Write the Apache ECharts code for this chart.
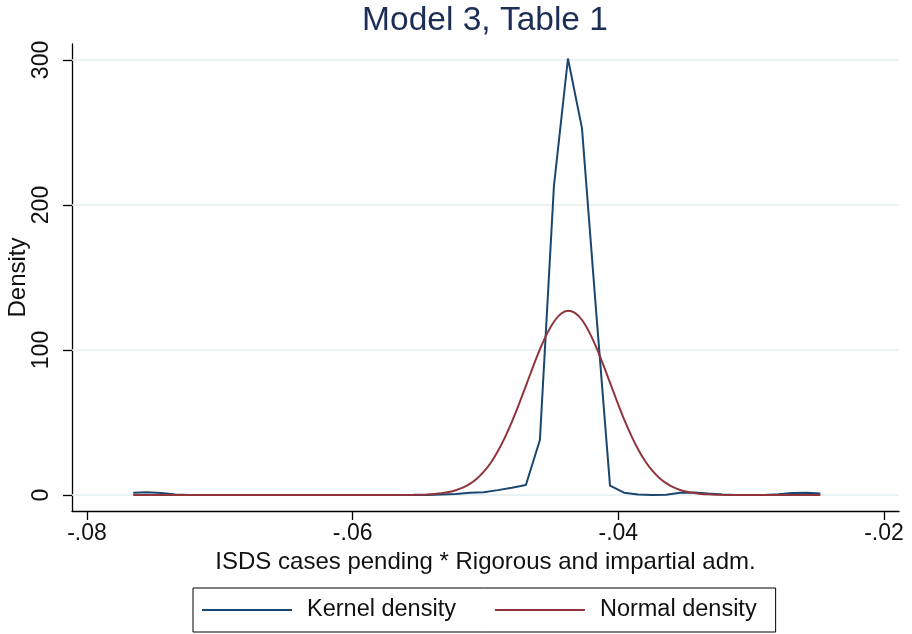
<!DOCTYPE html>
<html>
<head>
<meta charset="utf-8">
<script src="https://cdn.jsdelivr.net/npm/echarts@6/dist/echarts.min.js"></script>
<style>
html,body{margin:0;padding:0;background:#fff;}
#chart{width:912px;height:634px;}
</style>
</head>
<body>
<div id="chart"></div>
<script>
// Kernel density evaluation grid (x values)
var kernelX = [-0.076520,-0.075464,-0.074409,-0.073353,-0.072297,-0.071242,-0.070186,-0.069130,-0.068074,-0.067019,
  -0.065963,-0.064907,-0.063852,-0.062796,-0.061740,-0.060685,-0.059629,-0.058573,-0.057517,-0.056462,
  -0.055406,-0.054350,-0.053295,-0.052239,-0.051183,-0.050128,-0.049072,-0.048016,-0.046960,-0.045905,
  -0.044849,-0.043793,-0.042738,-0.041682,-0.040626,-0.039571,-0.038515,-0.037459,-0.036403,-0.035348,
  -0.034292,-0.033236,-0.032181,-0.031125,-0.030069,-0.029014,-0.027958,-0.026902,-0.025846,-0.024791];
// Kernel density values
var kernelDensity = [1.6,2.0,1.4,0.4,0.1,0,0,0,0,0,
  0,0,0,0,0,0,0,0,0,0,
  0,0.1,0.4,0.8,1.5,1.9,3.4,5.1,6.9,38,
  213,301,253,128,6.5,1.6,0.4,0.1,0.2,1.6,
  1.7,1.0,0.4,0.1,0,0.1,0.6,1.4,1.6,1.0];
// Normal density x values (denser near the bell)
var normalX = [-0.076520,-0.075464,-0.074409,-0.073353,-0.072297,-0.071242,-0.070186,-0.069130,-0.068074,-0.067019,
  -0.065963,-0.064907,-0.063852,-0.062796,-0.061740,-0.060685,-0.059629,-0.058573,-0.058045,-0.057517,
  -0.056989,-0.056462,-0.055934,-0.055406,-0.054878,-0.054350,-0.053822,-0.053295,-0.052767,-0.052239,
  -0.051711,-0.051183,-0.050655,-0.050128,-0.049600,-0.049072,-0.048544,-0.048016,-0.047488,-0.046960,
  -0.046432,-0.045905,-0.045377,-0.044849,-0.044321,-0.043793,-0.043265,-0.042738,-0.042210,-0.041682,
  -0.041154,-0.040626,-0.040098,-0.039571,-0.039043,-0.038515,-0.037987,-0.037459,-0.036931,-0.036403,
  -0.035875,-0.035348,-0.034820,-0.034292,-0.033764,-0.033236,-0.032708,-0.032181,-0.031653,-0.031125,
  -0.030597,-0.030069,-0.029541,-0.029014,-0.027958,-0.026902,-0.025846,-0.024791];
// Normal density values
var normalDensity = [0,0,0,0,0,0,0,0,0,0,
  0,0,0,0,0,0,0,0.002,0.004,0.01,
  0.017,0.03,0.068,0.13,0.236,0.42,0.74,1.24,2.04,3.27,
  5.09,7.7,11.27,16.1,22.3,30.2,39.6,50.4,62.5,75.3,
  88.2,100.4,111.1,119.5,125.0,127.1,125.6,120.7,112.7,102.3,
  90.3,77.5,64.6,52.3,41.3,31.6,23.5,17.0,12.0,8.2,
  5.46,3.5,2.21,1.35,0.8,0.47,0.26,0.14,0.075,0.04,
  0.02,0.01,0.005,0,0,0,0,0];
var xTicks = [-0.08,-0.06,-0.04,-0.02];
var xTickLabels = ['-.08','-.06','-.04','-.02'];
var yTicks = [0,100,200,300];
var yTickLabels = ['0','100','200','300'];
var seriesNames = ['Kernel density','Normal density'];
var titleText = 'Model 3, Table 1';
var xTitle = 'ISDS cases pending * Rigorous and impartial adm.';
var yTitle = 'Density';

var FONT = '"Liberation Sans", Arial, Helvetica, sans-serif';
function pair(xs, ys){ return xs.map(function(x,i){ return [x, ys[i]]; }); }
function lookup(vals, labels, v){
  for (var i=0;i<vals.length;i++){ if (Math.abs(vals[i]-v) < 1e-9) return labels[i]; }
  return '';
}

var chart = echarts.init(document.getElementById('chart'), null, {renderer:'canvas'});
chart.setOption({
  animation: false,
  backgroundColor: '#ffffff',
  title: {
    text: titleText,
    left: 485, textAlign: 'center', top: 4, padding: 0,
    textStyle: {fontFamily: FONT, fontSize: 33.5, fontWeight: 'normal', color: '#1c2e55'}
  },
  grid: {left: 72, right: 13, top: 44, bottom: 123, containLabel: false, outerBoundsMode: 'none'},
  xAxis: {
    type: 'value', min: -0.08113, max: -0.01887,
    name: xTitle, nameLocation: 'middle', nameGap: 39, nameMoveOverlap: false,
    nameTextStyle: {fontFamily: FONT, fontSize: 24, color: '#111'},
    axisLine: {show: true, onZero: false, lineStyle: {color: '#000', width: 1.3}},
    axisTick: {show: true, length: 9, customValues: xTicks, lineStyle: {color: '#000', width: 1.3}},
    axisLabel: {show: true, customValues: xTicks, margin: 11, fontFamily: FONT, fontSize: 23, color: '#111',
      formatter: function(v){ return lookup(xTicks, xTickLabels, v); }},
    splitLine: {show: false}
  },
  yAxis: {
    type: 'value', min: -11, max: 311,
    name: yTitle, nameLocation: 'middle', nameGap: 42, nameMoveOverlap: false,
    nameTextStyle: {fontFamily: FONT, fontSize: 24, color: '#111'},
    axisLine: {show: true, onZero: false, lineStyle: {color: '#000', width: 1.3}},
    axisTick: {show: true, length: 9, customValues: yTicks, lineStyle: {color: '#000', width: 1.3}},
    axisLabel: {show: true, customValues: yTicks, rotate: 90, margin: 19, fontFamily: FONT, fontSize: 23, color: '#111',
      formatter: function(v){ return lookup(yTicks, yTickLabels, v); }},
    splitLine: {show: false}
  },
  legend: {
    data: [
      {name: seriesNames[0], icon: 'rect', itemStyle: {color: '#1a476f'}},
      {name: seriesNames[1], icon: 'rect', itemStyle: {color: '#90353b'}}
    ],
    left: 193, bottom: 2,
    orient: 'horizontal',
    padding: [10, 19, 10, 9],
    itemWidth: 90, itemHeight: 2, itemGap: 39,
    borderColor: '#000', borderWidth: 1,
    textStyle: {fontFamily: FONT, fontSize: 23.5, color: '#111', padding: [0,0,0,10]}
  },
  series: [
    {
      name: '__grid', type: 'line', data: [], silent: true,
      markLine: {
        z: 1, silent: true, symbol: ['none','none'], label: {show: false},
        lineStyle: {color: '#e4eef1', width: 1.6, type: 'solid'},
        data: yTicks.map(function(v){ return {yAxis: v}; })
      }
    },
    {
      name: seriesNames[0], type: 'line', data: pair(kernelX, kernelDensity),
      symbol: 'none', showSymbol: false, z: 3,
      lineStyle: {color: '#1a476f', width: 2}, itemStyle: {color: '#1a476f'}
    },
    {
      name: seriesNames[1], type: 'line', data: pair(normalX, normalDensity),
      symbol: 'none', showSymbol: false, smooth: 0.3, z: 4,
      lineStyle: {color: '#90353b', width: 2}, itemStyle: {color: '#90353b'}
    }
  ]
});
</script>
</body>
</html>
